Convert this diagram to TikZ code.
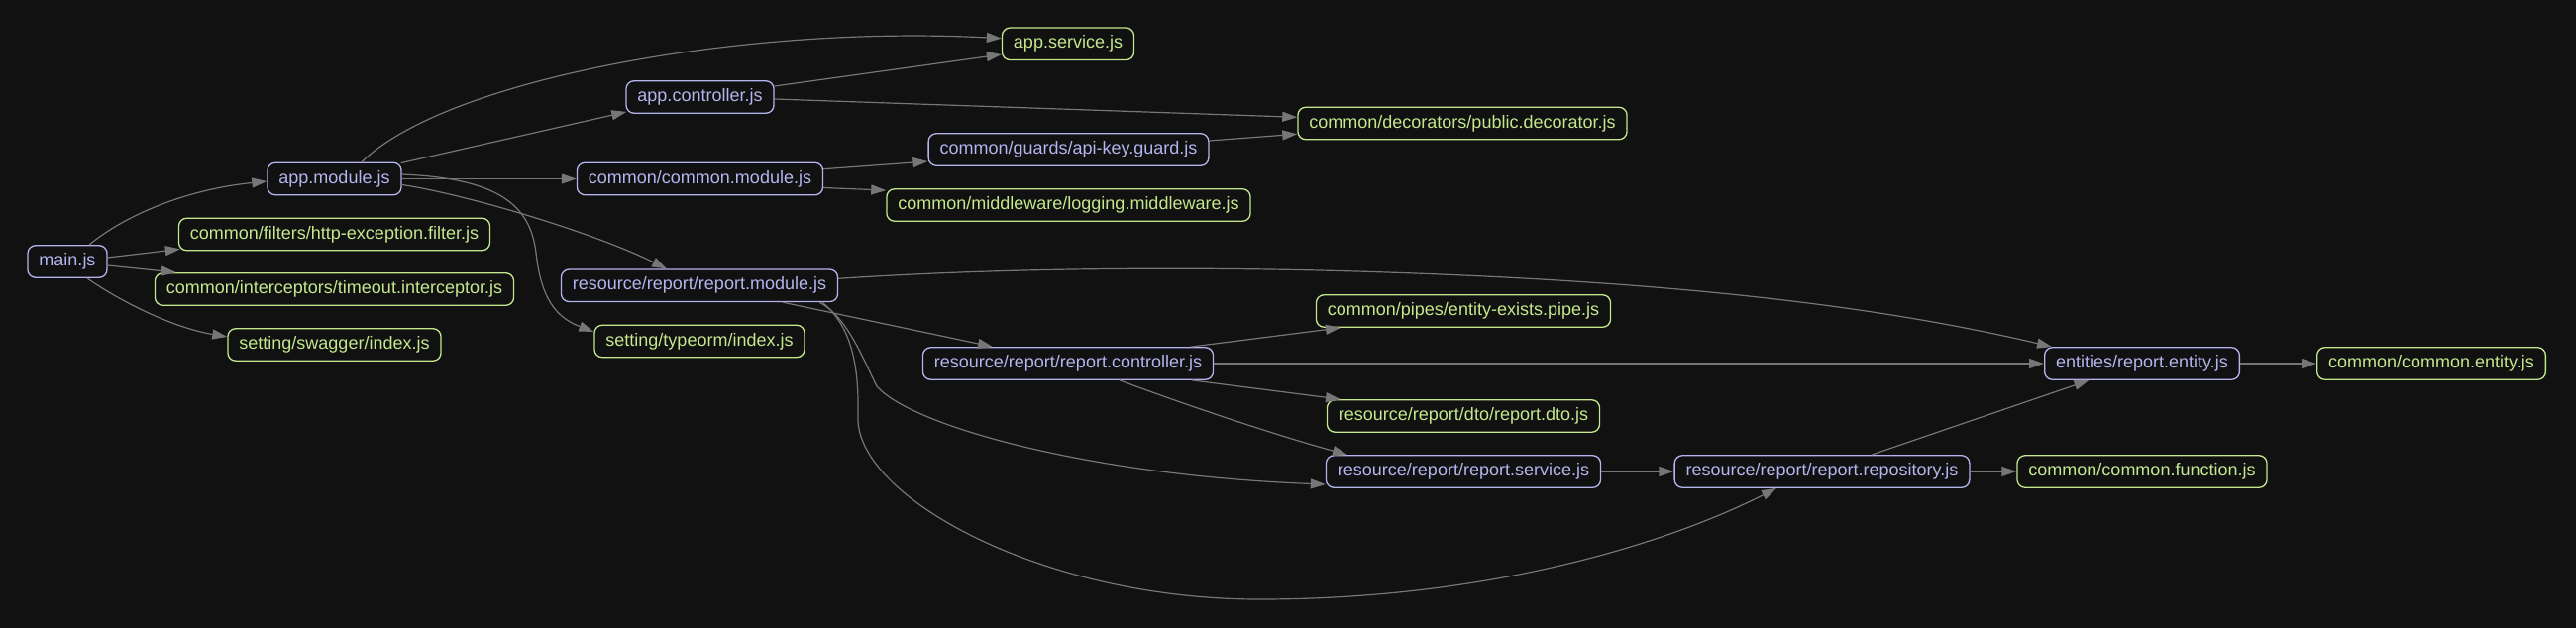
\documentclass[tikz,border=0pt]{standalone}
\usepackage{fontspec}
\setmainfont{Liberation Sans}
\usetikzlibrary{arrows.meta}
\definecolor{bg}{HTML}{111111}
\definecolor{purp}{HTML}{B4B4EE}
\definecolor{grn}{HTML}{C3E88D}
\definecolor{edgec}{HTML}{767676}
\begin{document}
\begin{tikzpicture}[x=1pt,y=-1pt,
  box/.style={draw, rounded corners=8pt, line width=1.3pt, minimum height=32.5pt, inner xsep=11.5pt, inner ysep=0pt, font=\fontsize{18}{20}\selectfont, fill=bg},
  mod/.style={box, draw=purp, text=purp},
  leaf/.style={box, draw=grn, text=grn},
  dep/.style={draw=edgec, line width=1.2pt, -{Triangle[length=15pt,width=10pt]}}]
\fill[bg] (0,0) rectangle (2600,634);
\useasboundingbox (0,0) rectangle (2600,634);

\node[mod]  (main)         at (68,264)     {main.js};
\node[mod]  (appmodule)    at (337.5,180.5) {app.module.js};
\node[leaf] (http)         at (337.5,236.5) {common/filters/http-exception.filter.js};
\node[leaf] (timeout)      at (337.5,292)  {common/interceptors/timeout.interceptor.js};
\node[leaf] (swagger)      at (337.5,348)  {setting/swagger/index.js};
\node[mod]  (appcontroller) at (706.5,98)  {app.controller.js};
\node[mod]  (commonmodule) at (706.5,180.5) {common/common.module.js};
\node[mod]  (reportmodule) at (706,288.3)  {resource/report/report.module.js};
\node[leaf] (typeorm)      at (706,344.5)  {setting/typeorm/index.js};
\node[leaf] (appservice)   at (1078,44.3)  {app.service.js};
\node[mod]  (guard)        at (1078.5,151) {common/guards/api-key.guard.js};
\node[leaf] (middleware)   at (1078.5,207) {common/middleware/logging.middleware.js};
\node[mod]  (reportcontroller) at (1078,367) {resource/report/report.controller.js};
\node[leaf] (decorator)    at (1476,124.5) {common/decorators/public.decorator.js};
\node[leaf] (pipe)         at (1477,314)   {common/pipes/entity-exists.pipe.js};
\node[leaf] (dto)          at (1477,420)   {resource/report/dto/report.dto.js};
\node[mod]  (service)      at (1477,476)   {resource/report/report.service.js};
\node[mod]  (repository)   at (1839,476)   {resource/report/report.repository.js};
\node[mod]  (entity)       at (2162,367)   {entities/report.entity.js};
\node[leaf] (cfunction)    at (2162,476)   {common/common.function.js};
\node[leaf] (centity)      at (2454,367)   {common/common.entity.js};

\draw[dep] ([xshift=22pt]main.north) .. controls (120,222) and (180,192) .. ([yshift=-2.5pt]appmodule.west);
\draw[dep] ([yshift=4pt]main.east) -- ([xshift=2pt,yshift=2pt]http.south west);
\draw[dep] ([yshift=-4pt]main.east) -- ([xshift=22pt]timeout.north west);
\draw[dep] ([xshift=20pt]main.south) .. controls (115,300) and (170,330) .. ([yshift=8pt]swagger.west);

\draw[dep] ([xshift=27.5pt]appmodule.north) .. controls (450,80) and (750,25) .. ([yshift=5.6pt]appservice.west);
\draw[dep] ([xshift=-1pt,yshift=-1pt]appmodule.north east) -- ([xshift=1pt,yshift=2pt]appcontroller.south west);
\draw[dep] (appmodule.east) -- (commonmodule.west);
\draw[dep] ([yshift=-6pt]appmodule.east) .. controls (470,196) and (600,235) .. ([xshift=-33pt]reportmodule.north);
\draw[dep] ([yshift=4.5pt]appmodule.east) .. controls (500,180) and (535,205) .. (541,255) .. controls (546,300) and (560,320) .. ([yshift=9.5pt]typeorm.west);

\draw[dep] ([yshift=11pt]appcontroller.east) -- ([yshift=-10.7pt]appservice.west);
\draw[dep] ([yshift=-2pt]appcontroller.east) -- ([yshift=6.2pt]decorator.west);
\draw[dep] ([yshift=9.8pt]commonmodule.east) -- ([yshift=-12pt]guard.west);
\draw[dep] ([yshift=-9pt]commonmodule.east) -- ([yshift=-2pt]middleware.north west);
\draw[dep] ([yshift=9pt]guard.east) -- ([yshift=-10.8pt]decorator.west);

\draw[dep] ([yshift=7pt]reportmodule.east) .. controls (1000,271) and (1200,268) .. (1400,275) .. controls (1700,285) and (1900,310) .. ([xshift=8pt]entity.north west);
\draw[dep] ([xshift=84pt]reportmodule.south) -- ([xshift=-76pt]reportcontroller.north);
\draw[dep] ([xshift=121pt]reportmodule.south) .. controls (855,320) and (870,360) .. (885,390) .. controls (920,430) and (1100,480) .. ([yshift=-13pt]service.west);
\draw[dep] ([xshift=124pt]reportmodule.south) .. controls (860,330) and (867,370) .. (866,420) .. controls (862,500) and (1050,605) .. (1271,605) .. controls (1500,605) and (1680,550) .. ([xshift=-46pt]repository.south);

\draw[dep] ([xshift=124pt]reportcontroller.north) -- ([xshift=-124pt]pipe.south);
\draw[dep] (reportcontroller.east) -- (entity.west);
\draw[dep] ([xshift=125pt]reportcontroller.south) -- ([xshift=-124pt]dto.north);
\draw[dep] ([xshift=52pt]reportcontroller.south) .. controls (1200,410) and (1290,440) .. ([xshift=-117pt]service.north);
\draw[dep] (service.east) -- (repository.west);
\draw[dep] ([xshift=50pt]repository.north) -- ([xshift=-53.5pt]entity.south);
\draw[dep] (repository.east) -- (cfunction.west);
\draw[dep] (entity.east) -- (centity.west);
\end{tikzpicture}
\end{document}
